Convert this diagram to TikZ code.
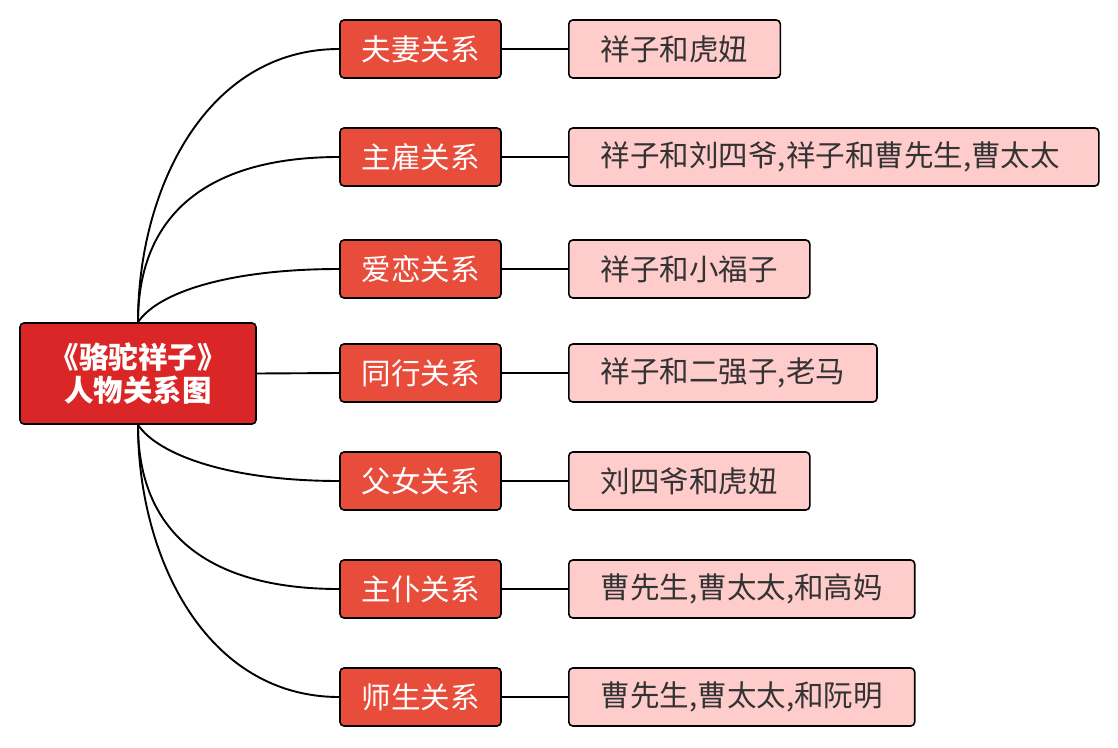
\documentclass[tikz,border=0pt]{standalone}
\usepackage{fontspec}
\setmainfont{Noto Sans CJK SC}
\definecolor{rootred}{RGB}{218,38,38}
\definecolor{midred}{RGB}{232,76,58}
\definecolor{leafpink}{RGB}{255,204,204}
\definecolor{leaftext}{RGB}{51,51,51}
\begin{document}
\begin{tikzpicture}[x=1pt,y=-1pt,
    every node/.style={anchor=center},
    rootbox/.style={draw=black,line width=1.6pt,fill=rootred,rounded corners=4pt,
      minimum width=236pt,minimum height=101pt,text=white,font=\fontsize{29.5}{33}\selectfont\bfseries,align=center},
    relbox/.style={draw=black,line width=1.6pt,fill=midred,rounded corners=4pt,
      minimum width=161pt,minimum height=58pt,text=white,font=\fontsize{29.5}{32}\selectfont},
    whobox/.style={draw=black,line width=1.6pt,fill=leafpink,rounded corners=4pt,anchor=west,
      minimum height=58pt,inner xsep=32pt,text=leaftext,font=\fontsize{29.5}{32}\selectfont},
    link/.style={line width=1.9pt}]
  \useasboundingbox (0,0) rectangle (1118,747);
  \node[rootbox] (r) at (138,373.5) {《骆驼祥子》\\人物关系图};
  \node[relbox] (fq) at (420.5,49) {夫妻关系};
  \node[relbox] (zg) at (420.5,157) {主雇关系};
  \node[relbox] (al) at (420.5,269) {爱恋关系};
  \node[relbox] (th) at (420.5,373) {同行关系};
  \node[relbox] (fn) at (420.5,481) {父女关系};
  \node[relbox] (zp) at (420.5,589) {主仆关系};
  \node[relbox] (sh) at (420.5,697) {师生关系};
  \node[whobox] (fqw) at (568,49) {祥子和虎妞};
  \node[whobox,text width=466pt,align=left] (zgw) at (568,157) {祥子和刘四爷,祥子和曹先生,曹太太};
  \node[whobox] (alw) at (568,269) {祥子和小福子};
  \node[whobox] (thw) at (568,373) {祥子和二强子,老马};
  \node[whobox] (fnw) at (568,481) {刘四爷和虎妞};
  \node[whobox] (zpw) at (568,589) {曹先生,曹太太,和高妈};
  \node[whobox] (shw) at (568,697) {曹先生,曹太太,和阮明};
  \draw[link] (r.north) .. controls +(0,-133) and +(-133,0) .. (fq.west);
  \draw[link] (r.north) .. controls +(0,-105) and +(-135,0) .. (zg.west);
  \draw[link] (r.north) .. controls +(20,-30) and +(-110,0) .. (al.west);
  \draw[link] (r.east) -- (th.west);
  \draw[link] (r.south) .. controls +(20,30) and +(-110,0) .. (fn.west);
  \draw[link] (r.south) .. controls +(0,105) and +(-135,0) .. (zp.west);
  \draw[link] (r.south) .. controls +(0,133) and +(-133,0) .. (sh.west);
  \draw[link] (fq) -- (fqw);
  \draw[link] (zg) -- (zgw);
  \draw[link] (al) -- (alw);
  \draw[link] (th) -- (thw);
  \draw[link] (fn) -- (fnw);
  \draw[link] (zp) -- (zpw);
  \draw[link] (sh) -- (shw);
\end{tikzpicture}
\end{document}
